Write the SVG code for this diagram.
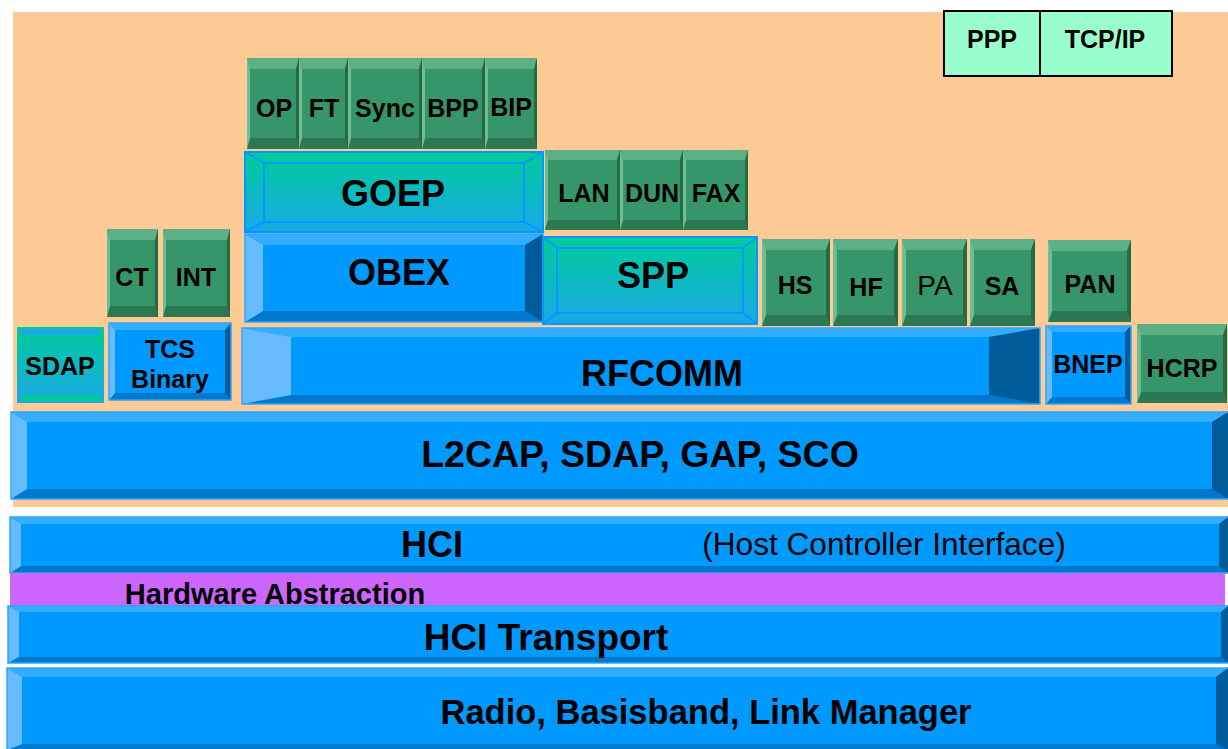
<svg xmlns="http://www.w3.org/2000/svg" width="1228" height="749" viewBox="0 0 1228 749">
  <style>
    text { font-family: "Liberation Sans", Arial, Helvetica, sans-serif; fill: #000; text-anchor: middle; }
    .bold { font-weight: bold; }
    .s25 { font-size: 25px; }
    .s36 { font-size: 36px; }
    /* green profile blocks */
    .g  { fill: #36966A; }
    .gt { fill: #5DAF86; }
    .gb { fill: #2C7852; }
    .gl { fill: #6FBD93; }
    .gr { fill: #246A42; }
    /* blue protocol blocks */
    .b  { fill: #0099FF; }
    .bt { fill: #33ADFF; }
    .bb { fill: #0078CC; }
    .bl { fill: #66BCFF; }
    .br { fill: #005C99; }
    .bf { fill: none; stroke: #2AA6FF; stroke-width: 1.5; }
    /* gradient blocks */
    .tg { fill: url(#teal); stroke: #0099FF; stroke-width: 2; }
    .tl { fill: none; stroke: #0099FF; stroke-width: 2; }
  </style>
  <defs>
    <linearGradient id="teal" x1="0" y1="0" x2="0" y2="1">
      <stop offset="0" stop-color="#00CC99"/>
      <stop offset="1" stop-color="#1AA8E8"/>
    </linearGradient>
  </defs>

  <!-- host stack backdrop -->
  <rect x="13" y="12" width="1215" height="495" fill="#FECB97"/>

  <!-- PPP / TCP-IP -->
  <g id="ppp">
    <rect x="944" y="11" width="96" height="65" fill="#99FFCC" stroke="#000" stroke-width="2"/>
    <text class="bold s25" x="992" y="48">PPP</text>
  </g>
  <g id="tcpip">
    <rect x="1040" y="11" width="132" height="65" fill="#99FFCC" stroke="#000" stroke-width="2"/>
    <text class="bold s25" x="1105" y="48">TCP/IP</text>
  </g>

  <!-- OBEX-based profiles -->
  <g id="op">
    <rect class="g" x="247" y="58" width="52" height="91"/>
    <polygon class="gt" points="247,58 299,58 296,69 250,69"/>
    <polygon class="gb" points="247,149 299,149 296,138 250,138"/>
    <polygon class="gl" points="247,58 250,69 250,138 247,149"/>
    <polygon class="gr" points="299,58 296,69 296,138 299,149"/>
    <text class="bold s25" x="274" y="117">OP</text>
  </g>
  <g id="ft">
    <rect class="g" x="299" y="58" width="49" height="91"/>
    <polygon class="gt" points="299,58 348,58 345,69 302,69"/>
    <polygon class="gb" points="299,149 348,149 345,138 302,138"/>
    <polygon class="gl" points="299,58 302,69 302,138 299,149"/>
    <polygon class="gr" points="348,58 345,69 345,138 348,149"/>
    <text class="bold s25" x="324" y="117">FT</text>
  </g>
  <g id="sync">
    <rect class="g" x="348" y="58" width="74" height="91"/>
    <polygon class="gt" points="348,58 422,58 419,69 351,69"/>
    <polygon class="gb" points="348,149 422,149 419,138 351,138"/>
    <polygon class="gl" points="348,58 351,69 351,138 348,149"/>
    <polygon class="gr" points="422,58 419,69 419,138 422,149"/>
    <text class="bold s25" x="385" y="117">Sync</text>
  </g>
  <g id="bpp">
    <rect class="g" x="422" y="58" width="63" height="91"/>
    <polygon class="gt" points="422,58 485,58 482,69 425,69"/>
    <polygon class="gb" points="422,149 485,149 482,138 425,138"/>
    <polygon class="gl" points="422,58 425,69 425,138 422,149"/>
    <polygon class="gr" points="485,58 482,69 482,138 485,149"/>
    <text class="bold s25" x="453" y="117">BPP</text>
  </g>
  <g id="bip">
    <rect class="g" x="485" y="58" width="52" height="91"/>
    <polygon class="gt" points="485,58 537,58 534,69 488,69"/>
    <polygon class="gb" points="485,149 537,149 534,138 488,138"/>
    <polygon class="gl" points="485,58 488,69 488,138 485,149"/>
    <polygon class="gr" points="537,58 534,69 534,138 537,149"/>
    <text class="bold s25" x="511" y="116">BIP</text>
  </g>

  <!-- GOEP -->
  <g id="goep">
    <rect class="tg" x="245" y="152" width="298" height="80"/>
    <rect class="tl" x="264" y="163" width="260" height="59"/>
    <path class="tl" d="M245,152 L264,163 M543,152 L524,163 M245,232 L264,222 M543,232 L524,222"/>
    <text class="bold s36" x="393" y="206">GOEP</text>
  </g>

  <!-- serial-port profiles -->
  <g id="lan">
    <rect class="g" x="545" y="150" width="75" height="80"/>
    <polygon class="gt" points="545,150 620,150 617,160 548,160"/>
    <polygon class="gb" points="545,230 620,230 617,220 548,220"/>
    <polygon class="gl" points="545,150 548,160 548,220 545,230"/>
    <polygon class="gr" points="620,150 617,160 617,220 620,230"/>
    <text class="bold s25" x="584" y="202">LAN</text>
  </g>
  <g id="dun">
    <rect class="g" x="620" y="150" width="63" height="80"/>
    <polygon class="gt" points="620,150 683,150 680,160 623,160"/>
    <polygon class="gb" points="620,230 683,230 680,220 623,220"/>
    <polygon class="gl" points="620,150 623,160 623,220 620,230"/>
    <polygon class="gr" points="683,150 680,160 680,220 683,230"/>
    <text class="bold s25" x="652" y="202">DUN</text>
  </g>
  <g id="fax">
    <rect class="g" x="683" y="150" width="65" height="80"/>
    <polygon class="gt" points="683,150 748,150 745,160 686,160"/>
    <polygon class="gb" points="683,230 748,230 745,220 686,220"/>
    <polygon class="gl" points="683,150 686,160 686,220 683,230"/>
    <polygon class="gr" points="748,150 745,160 745,220 748,230"/>
    <text class="bold s25" x="716" y="202">FAX</text>
  </g>

  <!-- telephony profiles -->
  <g id="ct">
    <rect class="g" x="107" y="229" width="51" height="88"/>
    <polygon class="gt" points="107,229 158,229 155,240 110,240"/>
    <polygon class="gb" points="107,317 158,317 155,306 110,306"/>
    <polygon class="gl" points="107,229 110,240 110,306 107,317"/>
    <polygon class="gr" points="158,229 155,240 155,306 158,317"/>
    <text class="bold s25" x="132" y="286">CT</text>
  </g>
  <g id="int">
    <rect class="g" x="163" y="229" width="67" height="88"/>
    <polygon class="gt" points="163,229 230,229 227,240 166,240"/>
    <polygon class="gb" points="163,317 230,317 227,306 166,306"/>
    <polygon class="gl" points="163,229 166,240 166,306 163,317"/>
    <polygon class="gr" points="230,229 227,240 227,306 230,317"/>
    <text class="bold s25" x="196" y="286">INT</text>
  </g>

  <!-- OBEX -->
  <g id="obex">
    <rect class="b" x="245" y="234" width="298" height="88"/>
    <polygon class="bt" points="245,234 543,234 525,245 263,245"/>
    <polygon class="bb" points="245,322 543,322 525,311 263,311"/>
    <polygon class="bl" points="245,234 263,245 263,311 245,322"/>
    <polygon class="br" points="543,234 525,245 525,311 543,322"/>
    <rect class="bf" x="245" y="234" width="298" height="88"/>
    <text class="bold s36" x="399" y="285">OBEX</text>
  </g>

  <!-- SPP -->
  <g id="spp">
    <rect class="tg" x="543" y="237" width="214" height="87"/>
    <rect class="tl" x="557" y="248" width="186" height="65"/>
    <path class="tl" d="M543,237 L557,248 M757,237 L743,248 M543,324 L557,313 M757,324 L743,313"/>
    <text class="bold s36" x="653" y="288">SPP</text>
  </g>

  <!-- audio / misc profiles -->
  <g id="hs">
    <rect class="g" x="762" y="239" width="68" height="87"/>
    <polygon class="gt" points="762,239 830,239 826,250 766,250"/>
    <polygon class="gb" points="762,326 830,326 826,315 766,315"/>
    <polygon class="gl" points="762,239 766,250 766,315 762,326"/>
    <polygon class="gr" points="830,239 826,250 826,315 830,326"/>
    <text class="bold s25" x="795" y="294">HS</text>
  </g>
  <g id="hf">
    <rect class="g" x="833" y="239" width="65" height="87"/>
    <polygon class="gt" points="833,239 898,239 894,250 837,250"/>
    <polygon class="gb" points="833,326 898,326 894,315 837,315"/>
    <polygon class="gl" points="833,239 837,250 837,315 833,326"/>
    <polygon class="gr" points="898,239 894,250 894,315 898,326"/>
    <text class="bold s25" x="866" y="296">HF</text>
  </g>
  <g id="pa">
    <rect class="g" x="902" y="239" width="65" height="87"/>
    <polygon class="gt" points="902,239 967,239 963,250 906,250"/>
    <polygon class="gb" points="902,326 967,326 963,315 906,315"/>
    <polygon class="gl" points="902,239 906,250 906,315 902,326"/>
    <polygon class="gr" points="967,239 963,250 963,315 967,326"/>
    <text x="935" y="295" font-size="28">PA</text>
  </g>
  <g id="sa">
    <rect class="g" x="970" y="239" width="65" height="87"/>
    <polygon class="gt" points="970,239 1035,239 1031,250 974,250"/>
    <polygon class="gb" points="970,326 1035,326 1031,315 974,315"/>
    <polygon class="gl" points="970,239 974,250 974,315 970,326"/>
    <polygon class="gr" points="1035,239 1031,250 1031,315 1035,326"/>
    <text class="bold s25" x="1002" y="295">SA</text>
  </g>
  <g id="pan">
    <rect class="g" x="1048" y="240" width="83" height="82"/>
    <polygon class="gt" points="1048,240 1131,240 1127,251 1052,251"/>
    <polygon class="gb" points="1048,322 1131,322 1127,311 1052,311"/>
    <polygon class="gl" points="1048,240 1052,251 1052,311 1048,322"/>
    <polygon class="gr" points="1131,240 1127,251 1127,311 1131,322"/>
    <text class="bold s25" x="1090" y="293">PAN</text>
  </g>

  <!-- SDAP -->
  <g id="sdap">
    <rect x="17" y="327" width="87" height="76" fill="url(#teal)"/>
    <polygon points="19,329 102,329 98,335 23,335" fill="#1AA8E8"/>
    <polygon points="19,401 102,401 98,395 23,395" fill="#00CC99"/>
    <text class="bold s25" x="60" y="375">SDAP</text>
  </g>

  <!-- TCS Binary -->
  <g id="tcs">
    <rect class="b" x="109" y="323" width="122" height="77"/>
    <polygon class="bt" points="109,323 231,323 225,330 115,330"/>
    <polygon class="bb" points="109,400 231,400 225,393 115,393"/>
    <polygon class="bl" points="109,323 115,330 115,393 109,400"/>
    <polygon class="br" points="231,323 225,330 225,393 231,400"/>
    <rect class="bf" x="109" y="323" width="122" height="77"/>
    <text class="bold s25" x="170" y="358">TCS</text>
    <text class="bold s25" x="170" y="388">Binary</text>
  </g>

  <!-- RFCOMM -->
  <g id="rfcomm">
    <rect class="b" x="242" y="328" width="798" height="76"/>
    <polygon class="bt" points="242,328 1040,328 989,337 291,337"/>
    <polygon class="bb" points="242,404 1040,404 989,395 291,395"/>
    <polygon class="bl" points="242,328 291,337 291,395 242,404"/>
    <polygon class="br" points="1040,328 989,337 989,395 1040,404"/>
    <rect class="bf" x="242" y="328" width="798" height="76"/>
    <text class="bold s36" x="662" y="386">RFCOMM</text>
  </g>

  <!-- BNEP -->
  <g id="bnep">
    <rect class="b" x="1046" y="326" width="85" height="78"/>
    <polygon class="bt" points="1046,326 1131,326 1125,332 1052,332"/>
    <polygon class="bb" points="1046,404 1131,404 1125,397 1052,397"/>
    <polygon class="bl" points="1046,326 1052,332 1052,397 1046,404"/>
    <polygon class="br" points="1131,326 1125,332 1125,397 1131,404"/>
    <rect class="bf" x="1046" y="326" width="85" height="78"/>
    <text class="bold s25" x="1088" y="373">BNEP</text>
  </g>

  <!-- HCRP -->
  <g id="hcrp">
    <rect class="g" x="1137" y="324" width="90" height="79"/>
    <polygon class="gt" points="1137,324 1227,324 1223,335 1141,335"/>
    <polygon class="gb" points="1137,403 1227,403 1223,392 1141,392"/>
    <polygon class="gl" points="1137,324 1141,335 1141,392 1137,403"/>
    <polygon class="gr" points="1227,324 1223,335 1223,392 1227,403"/>
    <text class="bold s25" x="1182" y="377">HCRP</text>
  </g>

  <!-- L2CAP layer -->
  <g id="l2cap">
    <rect class="b" x="11" y="412" width="1217" height="87"/>
    <polygon class="bt" points="11,412 1228,412 1212,422 27,422"/>
    <polygon class="bb" points="11,499 1228,499 1212,489 27,489"/>
    <polygon class="bl" points="11,412 27,422 27,489 11,499"/>
    <polygon class="br" points="1228,412 1212,422 1212,489 1228,499"/>
    <rect class="bf" x="11" y="412" width="1218" height="87"/>
    <text class="bold" x="640" y="467" font-size="37.5">L2CAP, SDAP, GAP, SCO</text>
  </g>

  <!-- HCI -->
  <g id="hci">
    <rect class="b" x="10" y="517" width="1218" height="56"/>
    <polygon class="bt" points="10,517 1228,517 1219,524 21,524"/>
    <polygon class="bb" points="10,573 1228,573 1219,566 21,566"/>
    <polygon class="bl" points="10,517 21,524 21,566 10,573"/>
    <polygon class="br" points="1228,517 1219,524 1219,566 1228,573"/>
    <rect class="bf" x="10" y="517" width="1219" height="56"/>
    <text class="bold s36" x="432" y="557">HCI</text>
    <text x="884" y="555" font-size="31.6">(Host Controller Interface)</text>
  </g>

  <!-- Hardware abstraction -->
  <g id="hwabs">
    <rect x="10" y="573" width="1215" height="33" fill="#CC66FF"/>
    <text class="bold" x="275" y="604" font-size="29">Hardware Abstraction</text>
  </g>

  <!-- HCI transport -->
  <g id="hcitransport">
    <rect class="b" x="8" y="606" width="1220" height="57"/>
    <polygon class="bt" points="8,606 1228,606 1221,612 19,612"/>
    <polygon class="bb" points="8,663 1228,663 1221,657 19,657"/>
    <polygon class="bl" points="8,606 19,612 19,657 8,663"/>
    <polygon class="br" points="1228,606 1221,612 1221,657 1228,663"/>
    <rect class="bf" x="8" y="606" width="1221" height="57"/>
    <text class="bold" x="546" y="650" font-size="37">HCI Transport</text>
  </g>

  <!-- Radio / baseband -->
  <g id="radio">
    <rect class="b" x="7" y="668" width="1221" height="82"/>
    <polygon class="bt" points="7,668 1228,668 1216,677 22,677"/>
    <polygon class="bb" points="7,750 1228,750 1216,744 22,744"/>
    <polygon class="bl" points="7,668 22,677 22,744 7,750"/>
    <polygon class="br" points="1228,668 1216,677 1216,744 1228,750"/>
    <rect class="bf" x="7" y="668" width="1222" height="82"/>
    <text class="bold" x="706" y="724" font-size="34.5">Radio, Basisband, Link Manager</text>
  </g>

  <!-- no connectors in this layer diagram -->
  <g id="connectors"/>
</svg>
